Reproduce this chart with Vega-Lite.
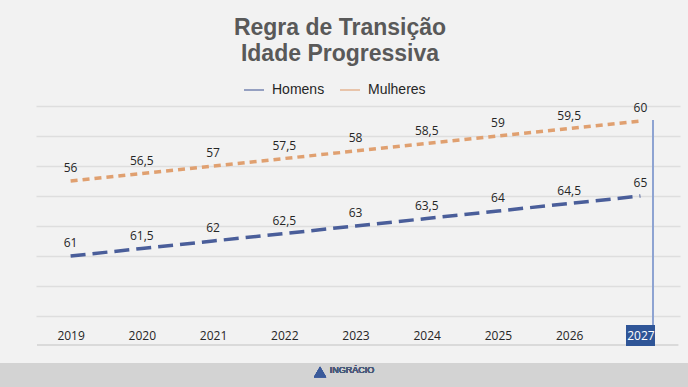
{
  "$schema": "https://vega.github.io/schema/vega-lite/v6.json",
  "width": 644,
  "height": 210,
  "autosize": {"type": "none"},
  "padding": {"left": 36, "top": 106, "right": 8, "bottom": 71},
  "background": "#f2f2f2",
  "config": {
    "view": {"stroke": null},
    "locale": {"number": {"decimal": ",", "thousands": ".", "grouping": [3], "currency": ["R$", ""]}},
    "font": "Liberation Sans"
  },
  "title": {
    "text": ["Regra de Transição", "Idade Progressiva"],
    "font": "Liberation Sans",
    "fontSize": 23,
    "fontWeight": "bold",
    "color": "#595959",
    "anchor": "middle",
    "frame": "group",
    "dx": -18,
    "lineHeight": 26,
    "offset": 13
  },
  "resolve": {"scale": {"y": "independent"}},
  "layer": [
    {
      "data": {"values": [
        {"ano": 2019, "sexo": "Homens", "idade": 61},
        {"ano": 2020, "sexo": "Homens", "idade": 61.5},
        {"ano": 2021, "sexo": "Homens", "idade": 62},
        {"ano": 2022, "sexo": "Homens", "idade": 62.5},
        {"ano": 2023, "sexo": "Homens", "idade": 63},
        {"ano": 2024, "sexo": "Homens", "idade": 63.5},
        {"ano": 2025, "sexo": "Homens", "idade": 64},
        {"ano": 2026, "sexo": "Homens", "idade": 64.5},
        {"ano": 2027, "sexo": "Homens", "idade": 65}
      ]},
      "layer": [
        {
          "mark": {"type": "rect", "color": "#d3d3d3"},
          "encoding": {
            "x": {"datum": 2018.0, "type": "quantitative", "scale": {"domain": [2018.514, 2027.556], "nice": false, "zero": false},
              "axis": {"title": null, "values": [2019, 2020, 2021, 2022, 2023, 2024, 2025, 2026, 2027], "format": "d", "grid": false, "domain": false, "ticks": false, "labelOverlap": false, "labelPadding": 14, "labelFont": "Open Sans", "labelFontSize": 12, "labelColor": {"condition": {"test": "datum.value == 2027", "value": "#ffffff"}, "value": "#262626"}, "zindex": 1}},
            "x2": {"datum": 2027.75},
            "y": {"datum": 53.867, "type": "quantitative", "scale": {"domain": [57, 71], "nice": false, "zero": false},
              "axis": {"title": null, "values": [57, 59, 61, 63, 65, 67, 69, 71], "labels": false, "labelOverlap": false, "ticks": false, "domain": false, "grid": true, "gridColor": "#dedede", "gridWidth": 1.5, "zindex": 0}},
            "y2": {"datum": 51.5}
          }
        },
        {
          "mark": {"type": "rule", "color": "#dadada", "strokeWidth": 1},
          "encoding": {
            "x": {"datum": 2018.53, "type": "quantitative", "scale": {"domain": [2018.514, 2027.556], "nice": false, "zero": false},
              "axis": {"title": null, "values": [2019, 2020, 2021, 2022, 2023, 2024, 2025, 2026, 2027], "format": "d", "grid": false, "domain": false, "ticks": false, "labelOverlap": false, "labelPadding": 14, "labelFont": "Open Sans", "labelFontSize": 12, "labelColor": {"condition": {"test": "datum.value == 2027", "value": "#ffffff"}, "value": "#262626"}, "zindex": 1}},
            "x2": {"datum": 2027.53},
            "y": {"datum": 55.067, "type": "quantitative", "scale": {"domain": [57, 71], "nice": false, "zero": false},
              "axis": {"title": null, "values": [57, 59, 61, 63, 65, 67, 69, 71], "labels": false, "labelOverlap": false, "ticks": false, "domain": false, "grid": true, "gridColor": "#dedede", "gridWidth": 1.5, "zindex": 0}}
          }
        },
        {
          "mark": {"type": "line", "strokeDash": [15, 7], "strokeWidth": 3.5, "strokeCap": "butt"},
          "encoding": {
            "x": {"field": "ano", "type": "quantitative", "scale": {"domain": [2018.514, 2027.556], "nice": false, "zero": false},
              "axis": {"title": null, "values": [2019, 2020, 2021, 2022, 2023, 2024, 2025, 2026, 2027], "format": "d", "grid": false, "domain": false, "ticks": false, "labelOverlap": false, "labelPadding": 14, "labelFont": "Open Sans", "labelFontSize": 12, "labelColor": {"condition": {"test": "datum.value == 2027", "value": "#ffffff"}, "value": "#262626"}, "zindex": 1}},
            "y": {"field": "idade", "type": "quantitative", "scale": {"domain": [57, 71], "nice": false, "zero": false},
              "axis": {"title": null, "values": [57, 59, 61, 63, 65, 67, 69, 71], "labels": false, "labelOverlap": false, "ticks": false, "domain": false, "grid": true, "gridColor": "#dedede", "gridWidth": 1.5, "zindex": 0}},
            "color": {
              "datum": "Homens", "type": "nominal",
              "scale": {"domain": ["Homens", "Mulheres"], "range": ["#4A5E9A", "#E0A070"]},
              "legend": {
                "orient": "none", "legendX": 207, "legendY": -27, "direction": "horizontal",
                "title": null, "symbolType": "stroke", "symbolSize": 400, "symbolStrokeWidth": 2,
                "symbolOpacity": 0.55, "labelFont": "Liberation Sans", "labelFontSize": 14,
                "labelColor": "#262626", "labelOffset": 7, "columnPadding": 11
              }
            }
          }
        },
        {
          "mark": {"type": "text", "dy": -13, "font": "Open Sans", "fontSize": 12, "color": "#262626"},
          "encoding": {
            "x": {"field": "ano", "type": "quantitative", "scale": {"domain": [2018.514, 2027.556], "nice": false, "zero": false},
              "axis": {"title": null, "values": [2019, 2020, 2021, 2022, 2023, 2024, 2025, 2026, 2027], "format": "d", "grid": false, "domain": false, "ticks": false, "labelOverlap": false, "labelPadding": 14, "labelFont": "Open Sans", "labelFontSize": 12, "labelColor": {"condition": {"test": "datum.value == 2027", "value": "#ffffff"}, "value": "#262626"}, "zindex": 1}},
            "y": {"field": "idade", "type": "quantitative", "scale": {"domain": [57, 71], "nice": false, "zero": false},
              "axis": {"title": null, "values": [57, 59, 61, 63, 65, 67, 69, 71], "labels": false, "labelOverlap": false, "ticks": false, "domain": false, "grid": true, "gridColor": "#dedede", "gridWidth": 1.5, "zindex": 0}},
            "text": {"field": "idade", "type": "quantitative", "format": ".1~f"}
          }
        },
        {
          "mark": {"type": "rect", "color": "#2F5597"},
          "encoding": {
            "x": {"datum": 2026.798, "type": "quantitative", "scale": {"domain": [2018.514, 2027.556], "nice": false, "zero": false},
              "axis": {"title": null, "values": [2019, 2020, 2021, 2022, 2023, 2024, 2025, 2026, 2027], "format": "d", "grid": false, "domain": false, "ticks": false, "labelOverlap": false, "labelPadding": 14, "labelFont": "Open Sans", "labelFontSize": 12, "labelColor": {"condition": {"test": "datum.value == 2027", "value": "#ffffff"}, "value": "#262626"}, "zindex": 1}},
            "x2": {"datum": 2027.205},
            "y": {"datum": 56.4, "type": "quantitative", "scale": {"domain": [57, 71], "nice": false, "zero": false},
              "axis": {"title": null, "values": [57, 59, 61, 63, 65, 67, 69, 71], "labels": false, "labelOverlap": false, "ticks": false, "domain": false, "grid": true, "gridColor": "#dedede", "gridWidth": 1.5, "zindex": 0}},
            "y2": {"datum": 55.0}
          }
        },
        {
          "mark": {"type": "rule", "color": "#8EA4D2", "strokeWidth": 1.3},
          "encoding": {
            "x": {"datum": 2027.177, "type": "quantitative", "scale": {"domain": [2018.514, 2027.556], "nice": false, "zero": false},
              "axis": {"title": null, "values": [2019, 2020, 2021, 2022, 2023, 2024, 2025, 2026, 2027], "format": "d", "grid": false, "domain": false, "ticks": false, "labelOverlap": false, "labelPadding": 14, "labelFont": "Open Sans", "labelFontSize": 12, "labelColor": {"condition": {"test": "datum.value == 2027", "value": "#ffffff"}, "value": "#262626"}, "zindex": 1}},
            "y": {"datum": 70.067, "type": "quantitative", "scale": {"domain": [57, 71], "nice": false, "zero": false},
              "axis": {"title": null, "values": [57, 59, 61, 63, 65, 67, 69, 71], "labels": false, "labelOverlap": false, "ticks": false, "domain": false, "grid": true, "gridColor": "#dedede", "gridWidth": 1.5, "zindex": 0}},
            "y2": {"datum": 56.4}
          }
        },
        {
          "mark": {"type": "point", "shape": "triangle-up", "filled": true, "color": "#3A5A9A", "size": 150, "opacity": 1},
          "encoding": {
            "x": {"datum": 2022.502, "type": "quantitative", "scale": {"domain": [2018.514, 2027.556], "nice": false, "zero": false},
              "axis": {"title": null, "values": [2019, 2020, 2021, 2022, 2023, 2024, 2025, 2026, 2027], "format": "d", "grid": false, "domain": false, "ticks": false, "labelOverlap": false, "labelPadding": 14, "labelFont": "Open Sans", "labelFontSize": 12, "labelColor": {"condition": {"test": "datum.value == 2027", "value": "#ffffff"}, "value": "#262626"}, "zindex": 1}},
            "y": {"datum": 53.27, "type": "quantitative", "scale": {"domain": [57, 71], "nice": false, "zero": false},
              "axis": {"title": null, "values": [57, 59, 61, 63, 65, 67, 69, 71], "labels": false, "labelOverlap": false, "ticks": false, "domain": false, "grid": true, "gridColor": "#dedede", "gridWidth": 1.5, "zindex": 0}}
          }
        },
        {
          "mark": {"type": "text", "text": "INGRÁCIO", "font": "Liberation Sans", "fontSize": 9, "color": "#4A5A7A", "align": "left", "baseline": "middle"},
          "encoding": {
            "x": {"datum": 2022.64, "type": "quantitative", "scale": {"domain": [2018.514, 2027.556], "nice": false, "zero": false},
              "axis": {"title": null, "values": [2019, 2020, 2021, 2022, 2023, 2024, 2025, 2026, 2027], "format": "d", "grid": false, "domain": false, "ticks": false, "labelOverlap": false, "labelPadding": 14, "labelFont": "Open Sans", "labelFontSize": 12, "labelColor": {"condition": {"test": "datum.value == 2027", "value": "#ffffff"}, "value": "#262626"}, "zindex": 1}},
            "y": {"datum": 53.4, "type": "quantitative", "scale": {"domain": [57, 71], "nice": false, "zero": false},
              "axis": {"title": null, "values": [57, 59, 61, 63, 65, 67, 69, 71], "labels": false, "labelOverlap": false, "ticks": false, "domain": false, "grid": true, "gridColor": "#dedede", "gridWidth": 1.5, "zindex": 0}}
          }
        }
      ]
    },
    {
      "data": {"values": [
        {"ano": 2019, "sexo": "Mulheres", "idade": 56},
        {"ano": 2020, "sexo": "Mulheres", "idade": 56.5},
        {"ano": 2021, "sexo": "Mulheres", "idade": 57},
        {"ano": 2022, "sexo": "Mulheres", "idade": 57.5},
        {"ano": 2023, "sexo": "Mulheres", "idade": 58},
        {"ano": 2024, "sexo": "Mulheres", "idade": 58.5},
        {"ano": 2025, "sexo": "Mulheres", "idade": 59},
        {"ano": 2026, "sexo": "Mulheres", "idade": 59.5},
        {"ano": 2027, "sexo": "Mulheres", "idade": 60}
      ]},
      "layer": [
        {
          "mark": {"type": "line", "strokeDash": [7, 5], "strokeWidth": 3.5, "strokeCap": "butt"},
          "encoding": {
            "x": {"field": "ano", "type": "quantitative", "scale": {"domain": [2018.514, 2027.556], "nice": false, "zero": false},
              "axis": {"title": null, "values": [2019, 2020, 2021, 2022, 2023, 2024, 2025, 2026, 2027], "format": "d", "grid": false, "domain": false, "ticks": false, "labelOverlap": false, "labelPadding": 14, "labelFont": "Open Sans", "labelFontSize": 12, "labelColor": {"condition": {"test": "datum.value == 2027", "value": "#ffffff"}, "value": "#262626"}, "zindex": 1}},
            "y": {"field": "idade", "type": "quantitative", "scale": {"domain": [47, 61], "nice": false, "zero": false}, "axis": null},
            "color": {"datum": "Mulheres", "type": "nominal"}
          }
        },
        {
          "mark": {"type": "text", "dy": -13, "font": "Open Sans", "fontSize": 12, "color": "#262626"},
          "encoding": {
            "x": {"field": "ano", "type": "quantitative", "scale": {"domain": [2018.514, 2027.556], "nice": false, "zero": false},
              "axis": {"title": null, "values": [2019, 2020, 2021, 2022, 2023, 2024, 2025, 2026, 2027], "format": "d", "grid": false, "domain": false, "ticks": false, "labelOverlap": false, "labelPadding": 14, "labelFont": "Open Sans", "labelFontSize": 12, "labelColor": {"condition": {"test": "datum.value == 2027", "value": "#ffffff"}, "value": "#262626"}, "zindex": 1}},
            "y": {"field": "idade", "type": "quantitative", "scale": {"domain": [47, 61], "nice": false, "zero": false}, "axis": null},
            "text": {"field": "idade", "type": "quantitative", "format": ".1~f"}
          }
        }
      ]
    }
  ]
}
